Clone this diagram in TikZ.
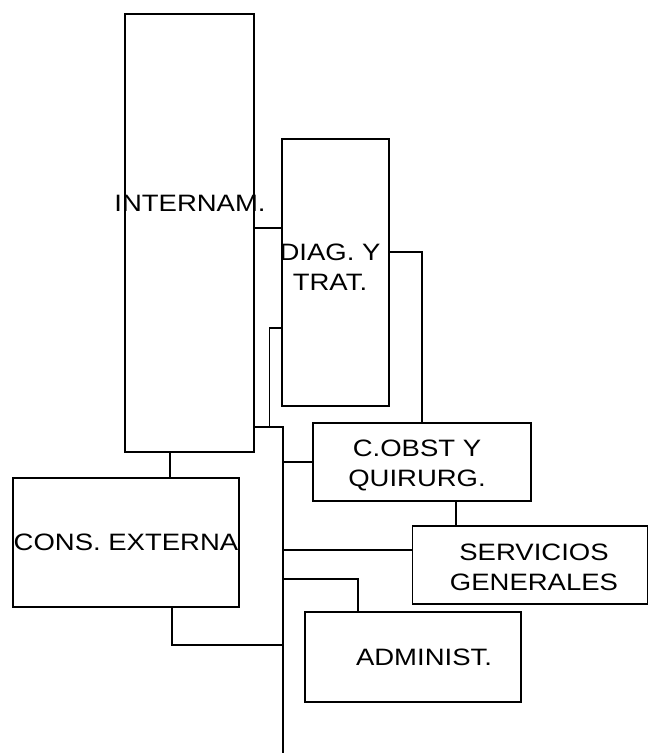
\documentclass[tikz,border=0pt]{standalone}
\usepackage{fontspec}
\setmainfont{Liberation Sans}[FakeStretch=1.16]
\usetikzlibrary{calc}

\begin{document}
\begin{tikzpicture}[x=1pt,y=-1pt,line width=1.3pt,
	dept/.style={draw,rectangle,inner sep=0pt},
	deptlbl/.style={inner sep=0pt,anchor=north,align=center,font=\fontsize{23.7}{29.5}\selectfont}]
			\useasboundingbox (0,0) rectangle (649,753);
			% cajas
			\node[dept,minimum width=129,minimum height=438] (intern) at (189.5,233) {};
			\node[dept,minimum width=107,minimum height=267] (diag) at (335.5,272.5) {};
			\node[dept,minimum width=226,minimum height=129] (cons) at (126,542.5) {};
			\node[dept,minimum width=218,minimum height=78] (cobst) at (422,462) {};
			\node[dept,minimum width=235,minimum height=78] (serv) at (530,565) {};
			\node[dept,minimum width=216,minimum height=90] (admin) at (413,657) {};
			% textos
			\node[deptlbl] (intern-t) at (190,195) {INTERNAM.};
			\node[deptlbl] (diag-t) at (330,243.5) {DIAG. Y\\TRAT.};
			\node[deptlbl] (cons-t) at (126,533.3) {CONS. EXTERNA};
			\node[deptlbl] (cobst-t) at (417,439.3) {C.OBST Y\\QUIRURG.};
			\node[deptlbl] (serv-t) at (534,543.3) {SERVICIOS\\GENERALES};
			\node[deptlbl] (admin-t) at (424,648.7) {ADMINIST.};
			% lineas
			\coordinate (trunk) at (283,427);
			\coordinate (tend) at (283,753);
			\draw (intern.east |- 0,228) -- (diag.west |- 0,228);
			\draw (diag.east |- 0,252) -| (cobst.north);
			\draw (diag.west |- 0,328) -- ++(-12,0) |- (trunk);
			\draw (intern.east |- trunk) -- (trunk) -- (tend);
			\draw (trunk |- cobst.west) -- (cobst.west);
			\draw (cobst.south -| 456,0) -- (serv.north -| 456,0);
			\draw (trunk |- 0,550) -- (serv.west |- 0,550);
			\draw (trunk |- 0,579) -| (admin.north -| 358,0);
			\draw (intern.south -| 170,0) -- (cons.north -| 170,0);
			\draw (cons.south -| 172,0) |- (trunk |- 0,645);
		\end{tikzpicture}
\end{document}
